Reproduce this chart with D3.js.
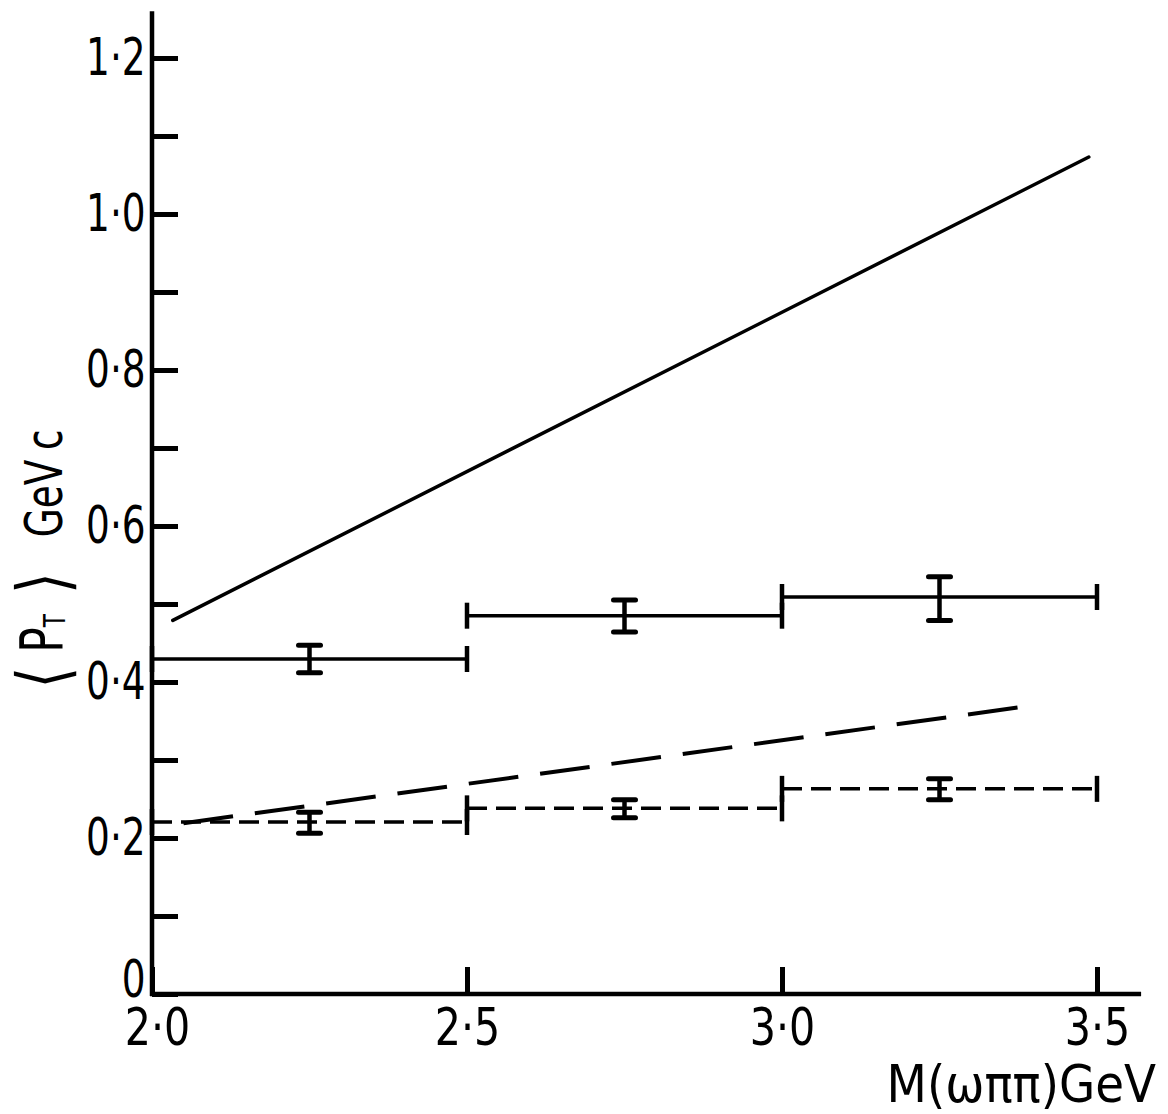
<!DOCTYPE html>
<html>
<head>
<meta charset="utf-8">
<script src="https://d3js.org/d3.v7.min.js"></script>
<style>
    body { margin: 0; background: #fff; }
    .lbl { font-family: "DejaVu Sans Condensed", "DejaVu Sans", sans-serif; font-size: 52px; fill: #000; }
</style>
</head>
<body>
<svg id="chart" width="1168" height="1114"></svg>
<script>
// bins in M(omega pi pi)
const binEdges = [2.0, 2.5, 3.0, 3.5];
// solid histogram (mean pT with errors)
const solidMean = [0.4295, 0.485, 0.509];
const solidErrLo = [0.412, 0.464, 0.479];
const solidErrHi = [0.447, 0.505, 0.535];
// dashed histogram
const dashMean = [0.2205, 0.238, 0.263];
const dashErrLo = [0.206, 0.226, 0.249];
const dashErrHi = [0.233, 0.249, 0.276];
// model curves (straight lines)
const solidLineX = [2.033, 3.487];
const solidLineY = [0.479, 1.073];
const dashLineX = [2.05, 3.39];
const dashLineY = [0.219, 0.369];
// ticks
const yMajor = [0, 0.2, 0.4, 0.6, 0.8, 1.0, 1.2];
const yLabels = ["0", "0·2", "0·4", "0·6", "0·8", "1·0", "1·2"];
const yMinor = [0.1, 0.3, 0.5, 0.7, 0.9, 1.1];
const xTicks = [2.0, 2.5, 3.0, 3.5];
const xLabels = ["2·0", "2·5", "3·0", "3·5"];

const svg = d3.select("#chart");
const x = d3.scaleLinear().domain([2.0, 3.5]).range([152, 1097]);
const y = d3.scaleLinear().domain([0, 1.2]).range([994, 58]);

// y axis ticks (pointing inward)
const yAxis = d3.axisLeft(y)
    .tickValues(d3.sort(yMajor.concat(yMinor)))
    .tickSizeInner(-26)
    .tickSizeOuter(0)
    .tickPadding(8)
    .tickFormat(d => {
        const i = yMajor.findIndex(v => Math.abs(v - d) < 1e-9);
        return i >= 0 ? yLabels[i] : "";
    });

svg.append("g")
    .attr("transform", `translate(${x(2.0)},0)`)
    .call(yAxis)
    .call(g => g.select(".domain").remove())
    .call(g => g.selectAll(".tick line").attr("stroke", "#000").attr("stroke-width", 5))
    .call(g => g.selectAll(".tick text")
        .attr("class", "lbl")
        .attr("transform", "scale(0.8,1)")
        .attr("y", d => d === 0 ? -14 : 0));

// x axis ticks (pointing up)
const xAxis = d3.axisBottom(x)
    .tickValues(xTicks)
    .tickSizeInner(-27)
    .tickSizeOuter(0)
    .tickPadding(14)
    .tickFormat((d, i) => xLabels[i]);

svg.append("g")
    .attr("transform", `translate(0,${y(0)})`)
    .call(xAxis)
    .call(g => g.select(".domain").remove())
    .call(g => g.selectAll(".tick line").attr("stroke", "#000").attr("stroke-width", 5))
    .call(g => g.selectAll(".tick text")
        .attr("class", "lbl")
        .attr("transform", d => d === 2.0 ? "translate(5,0) scale(0.88,1)" : "scale(0.88,1)"));

// axis lines
svg.append("line")
    .attr("x1", x(2.0)).attr("x2", x(2.0))
    .attr("y1", y(0) + 2).attr("y2", y(1.26))
    .attr("stroke", "#000").attr("stroke-width", 4.5);
svg.append("line")
    .attr("x1", x(2.0) - 2).attr("x2", x(3.57))
    .attr("y1", y(0)).attr("y2", y(0))
    .attr("stroke", "#000").attr("stroke-width", 4.5);

// straight model lines
const line = d3.line().x(d => x(d[0])).y(d => y(d[1]));
svg.append("path")
    .attr("d", line(d3.zip(solidLineX, solidLineY)))
    .attr("fill", "none").attr("stroke", "#000").attr("stroke-width", 3.5)
    .attr("stroke-linecap", "round");
svg.append("path")
    .attr("d", line(d3.zip(dashLineX, dashLineY)))
    .attr("fill", "none").attr("stroke", "#000").attr("stroke-width", 4)
    .attr("stroke-dasharray", "50,22");

// histograms with error bars
function drawHist(mean, lo, hi, dash) {
    const bins = mean.map((m, i) => ({
        x0: binEdges[i], x1: binEdges[i + 1], m, lo: lo[i], hi: hi[i]
    }));
    const g = svg.append("g").attr("stroke", "#000");

    g.selectAll(".hline").data(bins).enter().append("line")
        .attr("x1", d => x(d.x0)).attr("x2", d => x(d.x1))
        .attr("y1", d => y(d.m)).attr("y2", d => y(d.m))
        .attr("stroke-width", 3.5)
        .attr("stroke-dasharray", dash ? "20,9" : null);

    // end caps at bin edges
    bins.forEach(d => {
        [d.x0, d.x1].forEach(e => {
            g.append("line")
                .attr("x1", x(e)).attr("x2", x(e))
                .attr("y1", y(d.m) - 13).attr("y2", y(d.m) + 13)
                .attr("stroke-width", 4.5);
        });
    });

    // error bars at bin centres
    g.selectAll(".err").data(bins).enter().append("line")
        .attr("x1", d => x((d.x0 + d.x1) / 2)).attr("x2", d => x((d.x0 + d.x1) / 2))
        .attr("y1", d => y(d.lo)).attr("y2", d => y(d.hi))
        .attr("stroke-width", 4.5);
    ["lo", "hi"].forEach(k => {
        g.selectAll(".cap-" + k).data(bins).enter().append("line")
            .attr("x1", d => x((d.x0 + d.x1) / 2) - 11).attr("x2", d => x((d.x0 + d.x1) / 2) + 11)
            .attr("y1", d => y(d[k])).attr("y2", d => y(d[k]))
            .attr("stroke-width", 5).attr("stroke-linecap", "round");
    });
}
drawHist(solidMean, solidErrLo, solidErrHi, false);
drawHist(dashMean, dashErrLo, dashErrHi, true);

// y title (rotated, condensed along the text)
const yt = svg.append("text")
    .attr("class", "lbl")
    .attr("transform", "translate(62,690) rotate(-90) scale(0.8,1)");
yt.append("tspan").attr("x", 2).attr("dy", 5).attr("font-family", "DejaVu Sans").attr("font-size", 70).text("⟨");
yt.append("tspan").attr("x", 47).attr("dy", -5).attr("font-size", 58).text("P");
yt.append("tspan").attr("font-size", 30).attr("dy", 3).text("T");
yt.append("tspan").attr("x", 120).attr("dy", 2).attr("font-family", "DejaVu Sans").attr("font-size", 70).text("⟩");
yt.append("tspan").attr("x", 191).attr("dy", -5).text("GeV");
yt.append("tspan").attr("x", 300).text("c");

// x title
svg.append("text")
    .attr("class", "lbl")
    .attr("x", 1156).attr("y", 1102)
    .attr("text-anchor", "end")
    .text("M(ωππ)GeV");
</script>
</body>
</html>
